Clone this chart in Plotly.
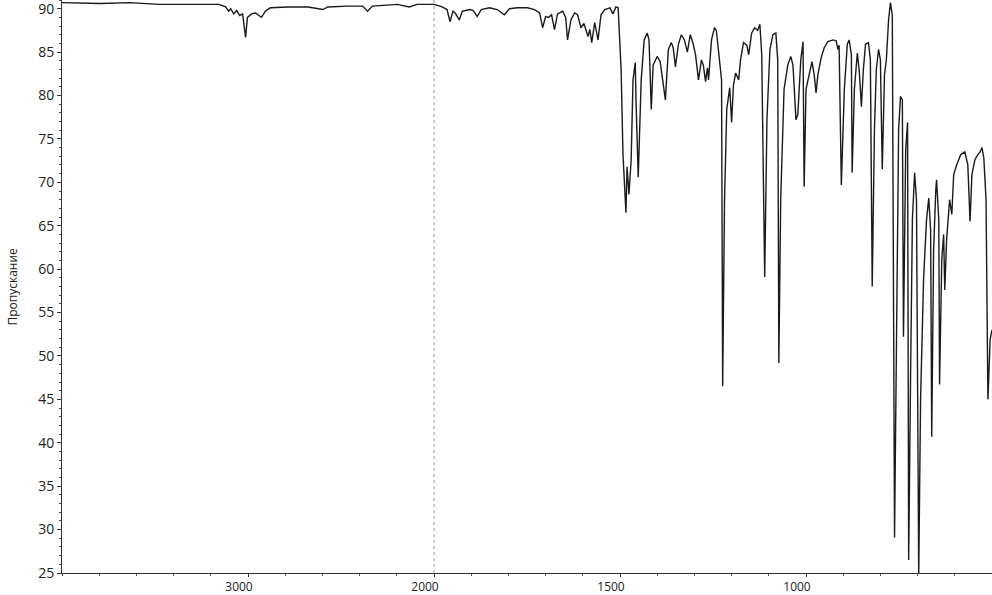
import plotly.graph_objects as go

# IR spectrum: wavenumber (cm-1) and transmittance (%)
WAVENUMBER = [
    4000, 3797, 3637, 3477, 3264, 3157, 3120, 3104, 3093, 3077, 3061, 3045, 3029, 3013, 3003,
    2981, 2960, 2928, 2907, 2880, 2784, 2677, 2597, 2571, 2464, 2384, 2357, 2331, 2197, 2133,
    2091, 2000,
    1978, 1965, 1957, 1949, 1943, 1932, 1924, 1905, 1895, 1884, 1873, 1851, 1830, 1811, 1797,
    1776, 1749, 1730, 1716, 1708, 1700, 1692, 1684, 1676, 1668, 1654, 1646, 1641, 1632, 1622,
    1614, 1605, 1597, 1586, 1581, 1576, 1568, 1559, 1551, 1541, 1527, 1519, 1511, 1505, 1497,
    1492, 1484, 1481, 1476, 1470, 1465, 1459, 1457, 1451, 1443, 1435, 1427, 1422, 1416, 1411,
    1400, 1392, 1378, 1370, 1362, 1357, 1351, 1343, 1335, 1327, 1319, 1311, 1303, 1297, 1289,
    1281, 1276, 1270, 1265, 1262, 1254, 1246, 1241, 1232, 1227, 1224, 1219, 1213, 1205, 1200,
    1195, 1189, 1181, 1176, 1168, 1159, 1154, 1146, 1138, 1130, 1124, 1119, 1111, 1105, 1097,
    1089, 1081, 1076, 1073, 1068, 1059, 1049, 1041, 1035, 1027, 1022, 1014, 1008, 1005, 1000,
    992, 984, 978, 973, 968, 959, 951, 941, 927, 919, 914, 911, 905, 897, 889,
    884, 878, 876, 870, 865, 862, 857, 851, 846, 840, 832, 827, 822, 816, 811,
    805, 800, 795, 789, 784, 778, 773, 768, 762, 757, 751, 746, 741, 738, 732,
    727, 724, 719, 714, 708, 703, 697, 692, 684, 676, 670, 665, 662, 657, 651,
    649, 643, 641, 635, 630, 627, 622, 614, 608, 603, 595, 584, 573, 565, 559,
    554, 546, 538, 532, 527, 522, 516, 511, 505, 500,
]
TRANSMITTANCE = [
    90.7, 90.6, 90.7, 90.5, 90.5, 90.5, 90.2, 89.7, 90.0, 89.4, 89.8, 89.2, 89.4, 86.7, 89.0,
    89.4, 89.5, 89.0, 89.7, 90.1, 90.2, 90.2, 89.9, 90.2, 90.3, 90.3, 89.7, 90.3, 90.5, 90.2,
    90.5, 90.5,
    90.2, 89.9, 88.5, 89.7, 89.5, 88.7, 89.7, 89.9, 89.8, 89.1, 89.9, 90.1, 89.9, 89.3, 90.0,
    90.1, 90.1, 89.9, 89.5, 87.8, 89.1, 89.0, 89.3, 87.6, 89.4, 89.7, 89.0, 86.4, 88.7, 89.5,
    89.3, 87.8, 88.3, 86.8, 87.6, 86.1, 88.4, 86.4, 89.3, 89.9, 90.1, 89.4, 90.2, 90.1, 83.0,
    73.2, 66.5, 71.8, 68.6, 72.6, 81.8, 83.8, 79.5, 70.6, 81.8, 86.4, 87.2, 86.4, 78.4, 83.5,
    84.5, 83.9, 79.5, 85.3, 86.1, 85.5, 83.3, 85.9, 87.0, 86.4, 85.0, 87.0, 85.9, 84.7, 81.8,
    84.1, 83.5, 81.6, 83.2, 81.8, 86.4, 87.8, 87.5, 84.1, 81.8, 46.5, 68.0, 78.4, 80.9, 76.9,
    81.2, 82.6, 81.8, 84.1, 86.1, 85.8, 84.7, 87.2, 87.8, 87.5, 88.2, 84.7, 59.1, 77.2, 85.3,
    87.0, 87.2, 84.1, 49.2, 68.0, 80.7, 83.5, 84.5, 83.5, 77.2, 77.8, 84.1, 86.2, 69.5, 80.7,
    82.4, 83.9, 82.4, 80.3, 82.4, 84.4, 85.5, 86.2, 86.4, 86.3, 85.3, 85.8, 69.7, 80.7, 85.9,
    86.4, 84.7, 71.1, 80.7, 84.1, 84.9, 82.9, 78.7, 82.9, 85.9, 86.1, 84.1, 58.0, 76.1, 83.0,
    85.3, 84.1, 71.5, 82.4, 84.1, 88.7, 90.7, 89.3, 29.1, 50.7, 76.1, 79.9, 79.5, 52.2, 73.8,
    76.9, 26.5, 47.3, 65.7, 71.1, 68.0, 24.8, 45.0, 58.8, 65.7, 68.2, 64.5, 40.7, 62.2, 69.2,
    70.3, 65.7, 46.7, 61.1, 64.0, 57.6, 63.4, 68.0, 66.3, 70.9, 72.0, 73.2, 73.5, 72.0, 65.5,
    70.9, 72.6, 73.2, 73.5, 74.0, 72.8, 68.0, 45.0, 51.9, 53.0,
]
X_TICKS = [3000, 2000, 1500, 1000]
Y_TICKS = list(range(25, 95, 5))
Y_TITLE = "Пропускание"


def scale(wn):
    # instrument scale: above 2000 cm-1 compressed by a factor of 2
    return wn if wn <= 2000 else 2000 + (wn - 2000) / 2.0


u = [scale(w) for w in WAVENUMBER]

fig = go.Figure()
fig.add_trace(go.Scatter(
    x=u, y=TRANSMITTANCE, mode="lines",
    line=dict(color="#1a1a1a", width=1.4),
    hoverinfo="skip", showlegend=False,
))

fig.add_shape(type="line", xref="x", yref="paper", x0=scale(2000), x1=scale(2000),
              y0=0, y1=1, line=dict(color="#999999", width=1, dash="dot"))

font = dict(family="Open Sans, Liberation Sans, sans-serif", size=13, color="#222222")

fig.update_layout(
    width=992, height=595,
    margin=dict(l=62, r=0, t=0, b=22, autoexpand=False),
    paper_bgcolor="white", plot_bgcolor="white",
    font=font,
    xaxis=dict(
        range=[scale(4000), scale(500)],
        automargin=False,
        tickmode="array",
        tickvals=[scale(v) for v in X_TICKS],
        ticktext=[str(v) for v in X_TICKS],
        ticks="outside", ticklen=3, tickcolor="#333",
        showgrid=False, zeroline=False,
        showline=True, linecolor="#333", linewidth=1,
        minor=dict(ticks="outside", ticklen=2, tickcolor="#555", dtick=100, tick0=0),
        tickfont=dict(size=12),
        ticklabelstandoff=0,
        ticklabelshift=9,
        ticklabeloverflow="allow",
    ),
    yaxis=dict(
        range=[25, 91],
        automargin=False,
        tickmode="array", tickvals=Y_TICKS,
        ticks="outside", ticklen=4, tickcolor="#333",
        showgrid=False, zeroline=False,
        showline=True, linecolor="#333", linewidth=1,
        minor=dict(ticks="outside", ticklen=2, tickcolor="#555", dtick=1, tick0=0),
        tickfont=dict(size=14),
        ticklabeloverflow="allow",
    ),
    annotations=[dict(
        text=Y_TITLE, textangle=-90, xref="paper", yref="paper",
        x=-50 / 930, y=0.5, xanchor="center", yanchor="middle",
        showarrow=False, font=dict(size=12, color="#222"),
    )],
)

fig.write_html(
    "out.html",
    config={"displayModeBar": False},
    post_script="document.body.style.margin='0';document.body.style.overflow='hidden';",
)
